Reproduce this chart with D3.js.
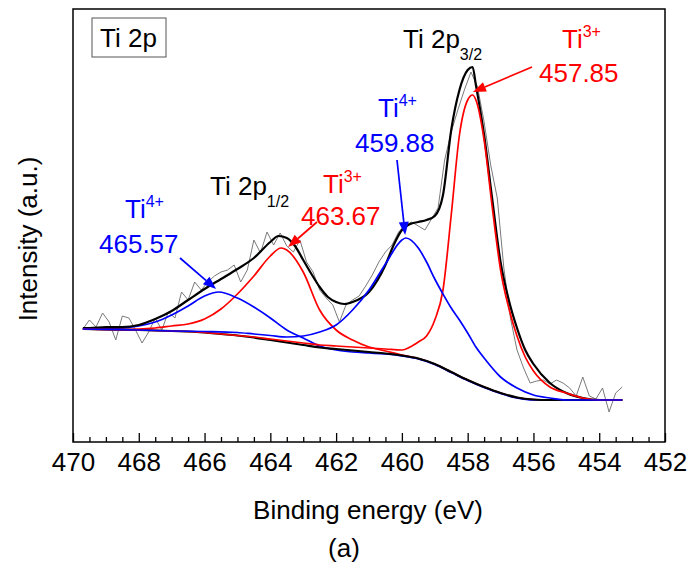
<!DOCTYPE html>
<html><head><meta charset="utf-8">
<script src="https://cdn.jsdelivr.net/npm/d3@7"></script>
<style>
body{margin:0;background:#fff}
svg{display:block}
text{font-family:"Liberation Sans",Arial,sans-serif}
</style>
</head><body>
<svg id="c" width="689" height="566"></svg>
<script>
// ---------------- DATA ----------------
const majorTicks = [470,468,466,464,462,460,458,456,454,452];
const tickLabels = ["470","468","466","464","462","460","458","456","454","452"];
const minorTicks = [469.5,469,468.5,467.5,467,466.5,465.5,465,464.5,463.5,463,462.5,461.5,461,460.5,459.5,459,458.5,457.5,457,456.5,455.5,455,454.5,453.5,453,452.5];

// raw spectrum (grey)
const rawE = [469.7,469.5,469.3,469.1,468.9,468.7,468.5,468.3,468.1,467.9,
467.7,467.5,467.3,467.1,466.9,466.7,466.5,466.3,466.1,465.9,
465.7,465.5,465.3,465.1,464.9,464.7,464.5,464.3,464.1,463.9,
463.7,463.5,463.3,463.1,462.9,462.7,462.5,462.3,462.1,461.9,
461.7,461.5,461.3,461.1,460.9,460.7,460.5,460.3,460.1,459.9,
459.7,459.5,459.3,459.1,458.9,458.7,458.5,458.3,458.1,457.9,
457.7,457.5,457.3,457.1,456.9,456.7,456.5,456.3,456.1,455.9,
455.7,455.5,455.3,455.1,454.9,454.7,454.5,454.3,454.1,453.9,
453.7,453.5,453.3];
const rawI = [113,122,115,129,120,102,126,124,112,99,
110,124,112,130,124,150,142,160,152,160,
166,170,172,177,160,172,202,189,210,197,
209,196,190,202,180,170,152,144,137,120,
137,142,146,156,167,180,190,197,210,217,
220,216,212,223,234,282,310,332,352,370,
355,320,277,244,174,124,92,74,59,61,
62,58,62,59,54,46,65,46,43,54,
30,49,55];

// Shirley background
const bgE = [469.7,469,468,467,466,465.5,465,464.5,464,463.5,463,462.5,462,461.5,461,460.5,460,459.5,459,458.5,458,457.5,457,456.5,456,455.5,455,454,453.3];
const bgI = [113,112.5,112,111,109.5,108,106.5,104.5,102,99.5,97,94.5,93,91.5,90,88.5,86.5,83.5,78,70,62,55,49,44.5,42.5,42,42,42,42];

// envelope (sum of fit)
const envE = [469.7,469.5,469,468.5,468,467.5,467,466.5,466,465.5,465,464.5,464,463.75,463.5,463.25,463,462.75,462.5,462.25,462,461.75,461.5,461,460.5,460.25,460,459.75,459.5,459.25,459,458.75,458.5,458.25,458,457.85,457.75,457.5,457.25,457,456.75,456.5,456.25,456,455.5,455,454.5,454,453.3];
const envI = [114,114,115,115,117,123,131,142,153,163,173,184,200,206,204,196,182,168,155,145,140,138,140,150,177,197,212,218,220,222,226,247,312,352,372,375,357,307,242,180,142,114,92,78,59,49,44,42,42];

// Ti4+ 2p1/2 component (465.57)
const ti4aE = [469.7,469,468.5,468,467.5,467,466.5,466,465.57,465,464.5,464,463.5,463,462.5,462,461.5,461,460.5,460,459.5,459,458.5,458,457.5,457,456.5,456,455.5,455,454,453.3];
const ti4aI = [113,113.5,114,116,120,127,136,146,150,144,135,124,112,104,96,92,90,89,88,86,83,77.5,69.5,61.5,54.5,48.5,44,42,42,42,42,42];

// Ti3+ 2p1/2 component (463.67)
const ti3aE = [469.7,469,468,467.5,467,466.5,466,465.5,465,464.5,464,463.67,463.5,463,462.5,462,461.5,461,460.5,460,459.5,459,458.5,458,457.5,457,456.5,456,455.5,455,454,453.3];
const ti3aI = [113,112.5,113,114,116,118,123,133,148,166,186,194,192,170,132,112,102,95,91,87,83.5,78,70,62,55,49,44.5,42.5,42,42,42,42];

// Ti4+ 2p3/2 component (459.88)
const ti4bE = [469.7,469,468,467,466,465,464.5,464,463.5,463,462.5,462,461.5,461,460.5,460,459.88,459.5,459.25,459,458.75,458.5,458.25,458,457.75,457.5,457,456.5,456,455.5,455,454,453.3];
const ti4bI = [113,112.5,112,111,110.5,109.5,108,106.5,105,106,110,117,132,152,178,202,204,194,180,163,148,134,122,109,95,84,65,54,47,44,42,42,42];

// Ti3+ 2p3/2 component (457.85)
const ti3bE = [469.7,469,468,467,466,465.5,465,464.5,464,463.5,463,462.5,462,461.5,461,460.5,460,459.75,459.5,459.25,459,458.75,458.5,458.25,458,457.85,457.75,457.5,457.25,457,456.75,456.5,456.25,456,455.5,455,454.5,454,453.3];
const ti3bI = [113,112.5,112,111,109.5,108,106.5,105,103,101,99,97,96,95,94,93,92,95,100,106,122,152,227,307,342,347,342,302,234,172,134,106,85,71,55,49,44,42,42];

// ---------------- CHART ----------------
const W = 689, H = 566;
const plot = {left:73, right:665, top:9, bottom:442};
const x = d3.scaleLinear().domain([470,452]).range([plot.left, plot.right]);
const y = d3.scaleLinear().domain([0,433]).range([plot.bottom, plot.top]);
const RED = "#ff0000", BLUE = "#0000ff";

const svg = d3.select("#c");
svg.append("rect").attr("width",W).attr("height",H).attr("fill","#fff");

const zip = (a,b) => a.map((v,i)=>[v,b[i]]);
const smooth = d3.line().x(d=>x(d[0])).y(d=>y(d[1])).curve(d3.curveMonotoneX);
const lin = d3.line().x(d=>x(d[0])).y(d=>y(d[1]));

const g = svg.append("g");
function curve(e, v, color, w, gen){
  g.append("path").attr("d", (gen||smooth)(zip(e,v))).attr("fill","none")
    .attr("stroke",color).attr("stroke-width",w).attr("stroke-linejoin","round");
}
curve(rawE, rawI, "#7a7a7a", 1, lin);
curve(ti3aE, ti3aI, RED, 1.7);
curve(ti4aE, ti4aI, BLUE, 1.7);
curve(bgE, bgI, "#000", 2.2);
curve(envE, envI, "#000", 2.2);
curve(ti3bE, ti3bI, RED, 1.7);
curve(ti4bE, ti4bI, BLUE, 1.7);

// frame
svg.append("rect").attr("x",plot.left).attr("y",plot.top).attr("width",plot.right-plot.left).attr("height",plot.bottom-plot.top)
  .attr("fill","none").attr("stroke","#000").attr("stroke-width",1.5);

// bottom axis, inward ticks
const ax = svg.append("g").attr("transform",`translate(0,${plot.bottom})`)
  .call(d3.axisBottom(x).tickValues(majorTicks).tickSize(-9).tickPadding(11).tickFormat((d,i)=>tickLabels[i]));
ax.select(".domain").remove();
ax.selectAll("line").attr("stroke","#000").attr("stroke-width",1.3);
ax.selectAll("text").attr("font-size",26).attr("fill","#000").attr("font-family","Liberation Sans, Arial, sans-serif");
const axm = svg.append("g").attr("transform",`translate(0,${plot.bottom})`)
  .call(d3.axisBottom(x).tickValues(minorTicks).tickSize(-5).tickFormat(""));
axm.select(".domain").remove();
axm.selectAll("line").attr("stroke","#000").attr("stroke-width",1.3);

// axis titles
svg.append("text").attr("x",368).attr("y",519).attr("text-anchor","middle").attr("font-size",26).text("Binding energy (eV)");
svg.append("text").attr("transform","translate(37,239) rotate(-90)").attr("text-anchor","middle").attr("font-size",26).text("Intensity (a.u.)");
svg.append("text").attr("x",344).attr("y",557).attr("text-anchor","middle").attr("font-size",26)
  .attr("font-family","Liberation Serif, Times New Roman, serif").text("(a)");

// box label
svg.append("rect").attr("x",92).attr("y",18).attr("width",74).attr("height",39).attr("fill","#fff").attr("stroke","#555").attr("stroke-width",1);
svg.append("text").attr("x",100).attr("y",47).attr("font-size",26).text("Ti 2p");

// labels with super/subscripts
function label(px, py, main, script, kind, color){
  const t = svg.append("text").attr("x",px).attr("y",py).attr("font-size",26).attr("fill",color);
  t.append("tspan").text(main);
  t.append("tspan").attr("font-size",16).attr("dy", kind==="sup" ? -11 : 12).text(script);
}
label(403, 48, "Ti 2p", "3/2", "sub", "#000");
label(210, 195, "Ti 2p", "1/2", "sub", "#000");
label(562, 48, "Ti", "3+", "sup", RED);
label(323, 193, "Ti", "3+", "sup", RED);
label(125, 218, "Ti", "4+", "sup", BLUE);
label(378, 117, "Ti", "4+", "sup", BLUE);
svg.append("text").attr("x",539).attr("y",82).attr("font-size",26).attr("fill",RED).text("457.85");
svg.append("text").attr("x",301).attr("y",225).attr("font-size",26).attr("fill",RED).text("463.67");
svg.append("text").attr("x",99).attr("y",253).attr("font-size",26).attr("fill",BLUE).text("465.57");
svg.append("text").attr("x",355).attr("y",152).attr("font-size",26).attr("fill",BLUE).text("459.88");

// arrows: tail in px, tip in data coords
const arrows = [
  {tail:[180,258], tipE:465.65, tipI:153, c:BLUE},
  {tail:[317,222], tipE:463.46, tipI:195, c:RED},
  {tail:[397,160], tipE:459.90, tipI:207, c:BLUE},
  {tail:[532,67],  tipE:457.84, tipI:350, c:RED}
];
arrows.forEach(a=>{
  const tx = x(a.tipE), ty = y(a.tipI);
  const [sx,sy] = a.tail;
  const ang = Math.atan2(ty-sy, tx-sx);
  const L = 13, hw = 5;
  const bx = tx - L*Math.cos(ang), by = ty - L*Math.sin(ang);
  svg.append("line").attr("x1",sx).attr("y1",sy).attr("x2",bx).attr("y2",by).attr("stroke",a.c).attr("stroke-width",1.7);
  const p1 = [bx + hw*Math.sin(ang), by - hw*Math.cos(ang)];
  const p2 = [bx - hw*Math.sin(ang), by + hw*Math.cos(ang)];
  svg.append("path").attr("d",`M${tx},${ty}L${p1[0]},${p1[1]}L${p2[0]},${p2[1]}Z`).attr("fill",a.c);
});
</script>
</body></html>
